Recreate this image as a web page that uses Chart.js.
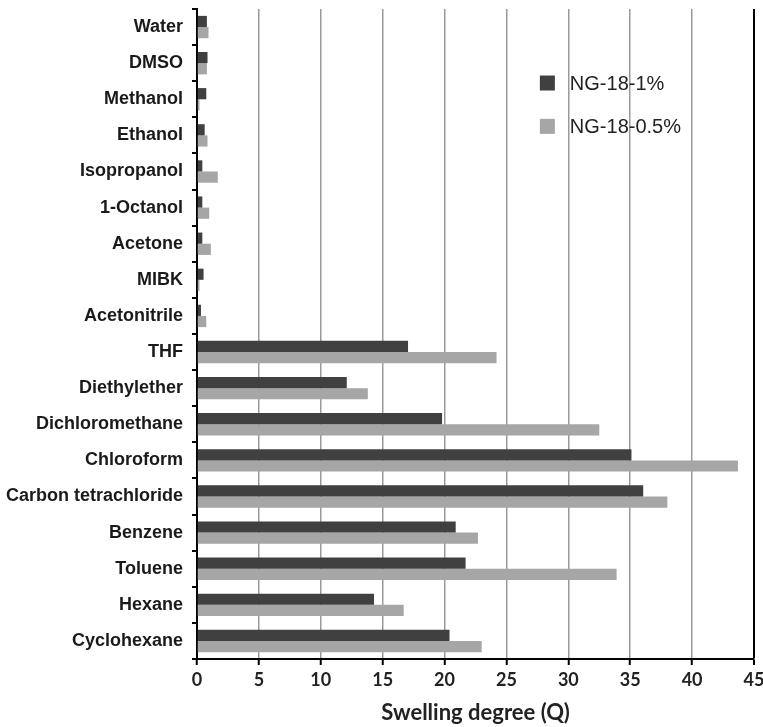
<!DOCTYPE html>
<html>
<head>
<meta charset="utf-8">
<script src="https://cdn.jsdelivr.net/npm/chart.js@4/dist/chart.umd.min.js"></script>
<style>
  html, body { margin: 0; padding: 0; background: #fff; }
  #wrap { width: 763px; height: 727px; position: relative; }
</style>
</head>
<body>
<div id="wrap"><canvas id="c" width="763" height="727"></canvas></div>
<script>
// Solvents tested
const solvents = ['Water', 'DMSO', 'Methanol', 'Ethanol', 'Isopropanol', '1-Octanol', 'Acetone', 'MIBK',
  'Acetonitrile', 'THF', 'Diethylether', 'Dichloromethane', 'Chloroform', 'Carbon tetrachloride',
  'Benzene', 'Toluene', 'Hexane', 'Cyclohexane'];

// Swelling degree Q for each gel
const ng18_1 = [0.8, 0.85, 0.75, 0.62, 0.43, 0.43, 0.43, 0.53, 0.32, 17.05, 12.1, 19.8, 35.1, 36.05, 20.9, 21.7, 14.3, 20.4];
const ng18_05 = [0.93, 0.8, 0.2, 0.85, 1.68, 0.99, 1.12, 0.2, 0.75, 24.2, 13.8, 32.5, 43.7, 38.0, 22.7, 33.9, 16.7, 23.0];

const seriesNames = ['NG-18-1%', 'NG-18-0.5%'];
const xTicks = [0, 5, 10, 15, 20, 25, 30, 35, 40, 45];

// Legend box drawn inside the plot area, upper right
const insideLegend = {
  id: 'insideLegend',
  afterDraw(chart) {
    const ctx = chart.ctx;
    const x = chart.scales.x.getPixelForValue(27.7);
    const rows = [chart.scales.y.getPixelForValue(1.55), chart.scales.y.getPixelForValue(2.75)];
    ctx.save();
    chart.data.datasets.forEach((ds, i) => {
      ctx.fillStyle = ds.backgroundColor;
      ctx.fillRect(x, rows[i] - 7.5, 15, 15);
      ctx.fillStyle = '#222';
      ctx.font = '20px "Liberation Sans", Arial, sans-serif';
      ctx.textBaseline = 'middle';
      ctx.textAlign = 'left';
      ctx.fillText(ds.label, x + 30, rows[i] + 1);
    });
    ctx.restore();
  }
};

new Chart(document.getElementById('c'), {
  type: 'bar',
  data: {
    labels: solvents,
    datasets: [
      { label: seriesNames[0], data: ng18_1, backgroundColor: '#404040' },
      { label: seriesNames[1], data: ng18_05, backgroundColor: '#a6a6a6' }
    ]
  },
  options: {
    indexAxis: 'y',
    responsive: false,
    animation: false,
    devicePixelRatio: 1,
    layout: { padding: { top: 9, right: 9, left: 0, bottom: 0 } },
    datasets: { bar: { categoryPercentage: 0.62, barPercentage: 1.0 } },
    plugins: { legend: { display: false }, tooltip: { enabled: false } },
    scales: {
      x: {
        type: 'linear',
        min: 0,
        max: 45,
        afterBuildTicks(scale) { scale.ticks = xTicks.map(v => ({ value: v })); },
        afterFit(scale) { scale.height = 68; scale.paddingRight = 0; scale.paddingLeft = 0; },
        border: { display: true, color: '#000', width: 2 },
        grid: {
          color: ctx => (ctx.tick && ctx.tick.value === 45 ? '#000' : '#9a9a9a'),
          lineWidth: ctx => (ctx.tick && ctx.tick.value === 45 ? 2 : 1.5),
          tickColor: '#000',
          tickWidth: 2,
          tickLength: 6,
          drawTicks: true
        },
        ticks: {
          color: '#222',
          padding: 4,
          font: { family: 'Lato, "Open Sans", sans-serif', weight: 'bold', size: 18 }
        },
        title: {
          display: true,
          text: 'Swelling degree (Q)',
          color: '#222',
          padding: { top: 4, bottom: 1 },
          font: { family: 'Lato, "Open Sans", sans-serif', weight: 'bold', size: 22 }
        }
      },
      y: {
        afterFit(scale) { scale.width = 197; scale.paddingTop = 0; scale.paddingBottom = 0; },
        border: { display: true, color: '#000', width: 2 },
        grid: { offset: true, drawOnChartArea: false, tickColor: '#000', tickLength: 5, lineWidth: 2 },
        ticks: {
          color: '#1a1a1a',
          padding: 9,
          font: { family: '"Liberation Sans", Arial, sans-serif', weight: 'bold', size: 18 }
        }
      }
    }
  },
  plugins: [insideLegend]
});
</script>
</body>
</html>
